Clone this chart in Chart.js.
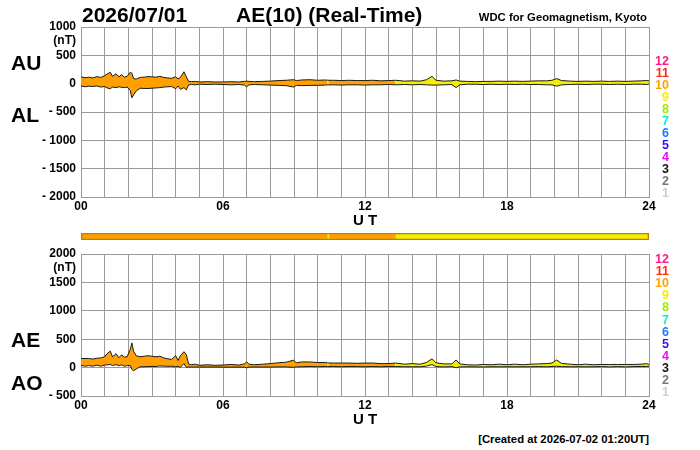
<!DOCTYPE html>
<html>
<head>
<meta charset="utf-8">
<script src="https://cdn.jsdelivr.net/npm/chart.js@4.4.1/dist/chart.umd.min.js"></script>
<style>
  html, body { margin: 0; padding: 0; background: #fff; }
  #wrap { position: relative; width: 700px; height: 450px; overflow: hidden;
          font-family: "Liberation Sans", Arial, sans-serif; font-weight: bold; color: #000; }
  #wrap canvas { position: absolute; left: 0; }
  .t { position: absolute; white-space: nowrap; line-height: 1; transform: translateY(-50%); }
  .r { transform: translate(-100%, -50%); }
  .c { transform: translate(-50%, -50%); }
</style>
</head>
<body>
<div id="wrap">
  <canvas id="auChart" width="700" height="230" style="top:0"></canvas>
  <canvas id="aeChart" width="700" height="200" style="top:226px"></canvas>
  <canvas id="stnBar" width="700" height="8" style="top:233px"></canvas>

  <div class="t" style="left:82px;top:14px;font-size:21px">2026/07/01</div>
  <div class="t" style="left:236px;top:14px;font-size:21px">AE(10) (Real-Time)</div>
  <div class="t r" style="left:647px;top:18px;font-size:11.3px">WDC for Geomagnetism, Kyoto</div>

  <div class="t" style="left:11px;top:62px;font-size:21px">AU</div>
  <div class="t" style="left:11px;top:114px;font-size:21px">AL</div>
  <div class="t" style="left:11px;top:339px;font-size:21px">AE</div>
  <div class="t" style="left:11px;top:382px;font-size:21px">AO</div>

  <div class="t r" style="left:76px;top:40px;font-size:12px">(nT)</div>
  <div class="t r" style="left:76px;top:267px;font-size:12px">(nT)</div>

  <div class="t c" style="left:365px;top:219px;font-size:15px">U T</div>
  <div class="t c" style="left:365px;top:418px;font-size:15px">U T</div>

  <div class="t r" style="left:649px;top:440px;font-size:11.3px">[Created at 2026-07-02 01:20UT]</div>
  <div id="legendTop"></div>
  <div id="legendBottom"></div>
</div>

<script>
// time of each sample, UT hours
const times = [
  0, 0.17, 0.33, 0.5, 0.67, 0.83, 1.0, 1.1, 1.24, 1.33, 1.48, 1.6, 1.72, 1.83, 1.95, 2.08, 2.15, 2.22, 2.33,
  2.5, 2.67, 2.83, 3.0, 3.17, 3.33, 3.5, 3.67, 3.83, 4.0, 4.1, 4.2, 4.35, 4.45, 4.55, 4.67, 4.83, 5.0,
  5.33, 5.67, 6.0, 6.33, 6.67, 6.9, 7.0, 7.1, 7.33, 7.67,
  8.0, 8.33, 8.67, 8.97, 9.1, 9.33, 9.67, 10.0, 10.33, 10.40,
  10.48, 10.67, 11.0, 11.33, 11.67, 12.0, 12.33, 12.67, 13.0, 13.28,
  13.67, 14.0, 14.33, 14.6, 14.83, 15.0, 15.33, 15.67, 15.85, 16.0,
  16.33, 16.67, 17.0, 17.33, 17.67, 18.0, 18.33, 18.67, 19.0, 19.33,
  19.67, 19.9, 20.1, 20.3, 20.67, 21.0, 21.33, 21.67, 22.0, 22.33,
  22.67, 23.0, 23.33, 23.67, 23.9, 24.0
];

const au = [
  120, 105, 115, 100, 125, 110, 140, 170, 200, 130, 175, 120, 160, 115, 130, 200, 185, 90, 80,
  110, 115, 125, 120, 115, 130, 110, 100, 95, 120, 85, 110, 210, 120, 40, 35, 40, 30,
  35, 30, 30, 35, 30, 40, 45, 40, 35, 40,
  45, 55, 60, 70, 55, 65, 70, 60, 65, 62,
  60, 60, 55, 60, 55, 55, 60, 50, 55, 60,
  45, 50, 45, 70, 130, 60, 45, 50, 65, 45,
  40, 35, 40, 40, 45, 40, 45, 40, 45, 50,
  50, 60, 90, 55, 45, 40, 45, 40, 45, 40,
  45, 40, 45, 50, 55, 50
];

const al = [
  -40, -55, -45, -50, -40, -60, -50, -75, -90, -60, -70, -55, -65, -70, -60, -120, -250, -200, -130,
  -80, -85, -85, -80, -75, -70, -60, -55, -50, -90, -40, -100, -70, -110, -20, -15, -20, -10,
  -15, -10, -15, -20, -15, -25, -55, -20, -15, -20,
  -25, -30, -35, -60, -30, -35, -30, -30, -25, -22,
  -22, -20, -25, -20, -20, -25, -20, -20, -15, -20,
  -15, -20, -15, -20, -25, -25, -20, -15, -70, -20,
  -10, -10, -15, -10, -15, -10, -15, -10, -15, -15,
  -20, -20, -45, -20, -15, -10, -15, -10, -10, -15,
  -10, -15, -10, -10, -15, -5
];

const ae = [
  160, 160, 160, 150, 165, 170, 190, 245, 290, 190, 245, 175, 225, 185, 190, 320, 435, 290, 210,
  190, 200, 210, 200, 190, 200, 170, 155, 145, 210, 125, 210, 280, 230, 60, 50, 60, 40,
  50, 40, 45, 55, 45, 65, 100, 60, 50, 60,
  70, 85, 95, 130, 85, 100, 100, 90, 90, 84,
  82, 80, 80, 80, 75, 80, 80, 70, 70, 80,
  60, 70, 60, 90, 155, 85, 65, 65, 135, 65,
  50, 45, 55, 50, 60, 50, 60, 50, 60, 65,
  70, 80, 135, 75, 60, 50, 60, 50, 55, 55,
  55, 55, 55, 60, 70, 55
];

const ao = [
  40, 25, 35, 25, 43, 25, 45, 48, 55, 35, 53, 33, 48, 23, 35, 40, -33, -55, -25,
  15, 15, 20, 20, 20, 30, 25, 23, 23, 15, 23, 5, 70, 5, 10, 10, 10, 10,
  10, 10, 8, 8, 8, 8, -5, 10, 10, 10,
  10, 13, 13, 5, 13, 15, 20, 15, 20, 20,
  19, 20, 15, 20, 18, 15, 20, 15, 20, 20,
  15, 15, 15, 25, 53, 18, 13, 18, -3, 13,
  15, 13, 13, 15, 15, 15, 15, 15, 15, 18,
  15, 20, 23, 18, 15, 15, 15, 15, 18, 13,
  18, 13, 18, 20, 20, 23
];

// number of contributing stations, by time block
const blockStart = [0, 10.40, 10.48, 13.28];
const blockEnd = [10.40, 10.48, 13.28, 24];
const blockStations = [10, 9, 10, 9];

const stationLevels = [12, 11, 10, 9, 8, 7, 6, 5, 4, 3, 2, 1];
const stationColors = ['#ff1a8c', '#ff2a10', '#ffa000', '#f6ee00', '#99ee00', '#10eecc',
                       '#1f78ff', '#3010ff', '#ee10ee', '#111111', '#777777', '#cccccc'];

const xTicks = [0, 6, 12, 18, 24];

const FONT = '"Liberation Sans", Arial, sans-serif';

function colorFor(n) {
    return stationColors[stationLevels.indexOf(n)];
}

function stationsAt(h) {
    for (let i = 0; i < blockStart.length; i++) {
        if (h >= blockStart[i] && h < blockEnd[i]) return blockStations[i];
    }
    return blockStations[blockStations.length - 1];
}

function points(values) {
    return values.map((v, i) => ({ x: times[i], y: v }));
}

function segmentFill(ctx) {
    return colorFor(stationsAt((ctx.p0.parsed.x + ctx.p1.parsed.x) / 2));
}

function panelOptions(yMin, yMax, padTop, xHeight) {
    return {
        responsive: false,
        animation: false,
        layout: { padding: { left: 0, right: 51, top: padTop, bottom: 0 } },
        plugins: { legend: { display: false }, tooltip: { enabled: false } },
        elements: { point: { radius: 0 }, line: { tension: 0 } },
        scales: {
            x: {
                type: 'linear', min: 0, max: 24,
                afterFit: s => { s.height = xHeight; },
                grid: { color: '#9a9a9a', drawTicks: false },
                border: { color: '#9a9a9a' },
                ticks: {
                    stepSize: 1, autoSkip: false, maxRotation: 0, padding: 2,
                    color: '#000', font: { family: FONT, size: 12, weight: 'bold' },
                    callback: v => xTicks.includes(v) ? String(v).padStart(2, '0') : ''
                }
            },
            y: {
                min: yMin, max: yMax,
                afterFit: s => { s.width = 81; },
                grid: { color: '#9a9a9a', drawTicks: false },
                border: { color: '#9a9a9a' },
                ticks: {
                    stepSize: 500, padding: 5,
                    color: '#000', font: { family: FONT, size: 12, weight: 'bold' },
                    callback: v => v < 0 ? '- ' + (-v) : String(v)
                }
            }
        }
    };
}

function lowerLine(values) {
    return { data: points(values), borderColor: '#1a1a1a', borderWidth: 1, fill: false };
}

function upperLine(values) {
    return {
        data: points(values), borderColor: '#1a1a1a', borderWidth: 1,
        fill: '-1', backgroundColor: colorFor(10),
        segment: { backgroundColor: segmentFill }
    };
}

// AU / AL panel
new Chart(document.getElementById('auChart'), {
    type: 'line',
    data: { datasets: [lowerLine(al), upperLine(au)] },
    options: panelOptions(-2000, 1000, 27, 33)
});

// AE / AO panel
new Chart(document.getElementById('aeChart'), {
    type: 'line',
    data: { datasets: [lowerLine(ao), upperLine(ae)] },
    options: panelOptions(-500, 2000, 28, 30)
});

// station count bar
const barSets = blockStart.map((s, i) => ({
    data: [[s, blockEnd[i]]],
    backgroundColor: colorFor(blockStations[i]),
    borderWidth: 0,
    order: 1
}));
barSets.push({
    data: [[0, 24]],
    backgroundColor: 'rgba(0,0,0,0)',
    borderColor: '#b98200',
    borderWidth: 1,
    borderSkipped: false,
    order: 0
});

new Chart(document.getElementById('stnBar'), {
    type: 'bar',
    data: { labels: [''], datasets: barSets },
    options: {
        responsive: false,
        animation: false,
        indexAxis: 'y',
        layout: { padding: { left: 81, right: 51, top: 0, bottom: 1 } },
        plugins: { legend: { display: false }, tooltip: { enabled: false } },
        datasets: { bar: { barPercentage: 1, categoryPercentage: 1, grouped: false } },
        scales: {
            x: { type: 'linear', min: 0, max: 24, display: false },
            y: { display: false }
        }
    }
});

// station colour key at the right of each panel
function buildKey(id, top, step) {
    const box = document.getElementById(id);
    stationLevels.forEach((n, i) => {
        const d = document.createElement('div');
        d.className = 't r';
        d.style.left = '669px';
        d.style.top = (top + i * step) + 'px';
        d.style.fontSize = '12.5px';
        d.style.color = stationColors[i];
        d.textContent = n;
        box.appendChild(d);
    });
}
buildKey('legendTop', 61, 12);
buildKey('legendBottom', 259, 12.1);
</script>
</body>
</html>
